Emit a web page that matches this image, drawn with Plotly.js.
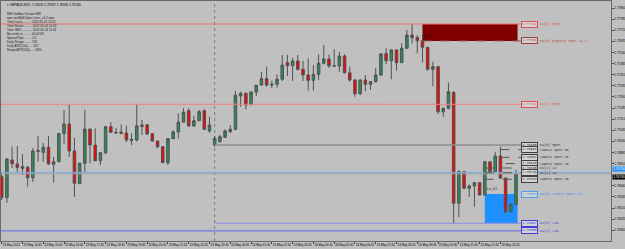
<!DOCTYPE html>
<html><head><meta charset="utf-8">
<script src="https://cdn.plot.ly/plotly-3.0.1.min.js"></script>
<style>html,body{margin:0;padding:0;background:#c0c0c0;overflow:hidden}#chart{width:625px;height:249px}</style>
</head><body><div id="chart"></div>
<script>
// ---- data: GBPAUD M15, first bar 2022-05-23 13:45 ----
const symbolTitle = "GBPAUD,M15";
const firstBar = [2022, 4, 23, 13, 45];
const barMinutes = 15;
const openP = [1.76721,1.76580,1.76834,1.76807,1.76778,1.76785,1.76714,1.76899,1.76886,1.76920,
1.76805,1.76822,1.77012,1.77077,1.76895,1.76674,1.76812,1.77043,1.76935,1.76829,
1.76883,1.77059,1.77021,1.77023,1.77016,1.76974,1.76969,1.77061,1.77072,1.77012,
1.76962,1.76924,1.76816,1.76978,1.77023,1.77090,1.77167,1.77064,1.77099,1.77167,
1.77030,1.76935,1.76958,1.76987,1.77025,1.77041,1.77266,1.77284,1.77210,1.77293,
1.77340,1.77383,1.77340,1.77345,1.77379,1.77491,1.77470,1.77502,1.77446,1.77408,
1.77372,1.77412,1.77487,1.77516,1.77470,1.77468,1.77536,1.77423,1.77374,1.77281,
1.77374,1.77345,1.77363,1.77408,1.77552,1.77504,1.77577,1.77491,1.77588,1.77678,
1.77660,1.77639,1.77595,1.77446,1.77464,1.77160,1.77183,1.77290,1.76542,1.76755,
1.76643,1.76659,1.76681,1.76598,1.76822,1.76755,1.76861,1.76712,1.76485,1.76535];
const highP = [1.76740,1.76845,1.76924,1.76928,1.76874,1.76793,1.76915,1.76996,1.76949,1.76996,
1.76856,1.77018,1.77172,1.77205,1.76984,1.76814,1.77172,1.77046,1.77048,1.76885,
1.77064,1.77089,1.77050,1.77075,1.77066,1.77014,1.77210,1.77104,1.77077,1.77014,
1.76964,1.76928,1.76980,1.77036,1.77149,1.77183,1.77183,1.77131,1.77172,1.77176,
1.77126,1.76996,1.77003,1.77041,1.77070,1.77300,1.77295,1.77290,1.77296,1.77341,
1.77430,1.77464,1.77370,1.77412,1.77543,1.77543,1.77524,1.77543,1.77504,1.77520,
1.77475,1.77547,1.77610,1.77547,1.77583,1.77565,1.77547,1.77464,1.77380,1.77377,
1.77408,1.77365,1.77457,1.77556,1.77588,1.77580,1.77580,1.77622,1.77712,1.77752,
1.77678,1.77678,1.77597,1.77497,1.77470,1.77187,1.77356,1.77297,1.76767,1.76758,
1.76670,1.76683,1.76683,1.76824,1.76824,1.76890,1.76924,1.76715,1.76538,1.76767];
const lowP = [1.76564,1.76544,1.76780,1.76755,1.76733,1.76654,1.76685,1.76822,1.76822,1.76800,
1.76681,1.76820,1.76940,1.76856,1.76586,1.76672,1.76748,1.76812,1.76827,1.76800,
1.76872,1.77018,1.77010,1.77008,1.76954,1.76935,1.76958,1.77003,1.77003,1.76958,
1.76913,1.76814,1.76800,1.76976,1.76978,1.77088,1.77059,1.77061,1.77097,1.77036,
1.77018,1.76924,1.76952,1.76984,1.77016,1.77036,1.77194,1.77176,1.77203,1.77266,
1.77336,1.77329,1.77320,1.77322,1.77367,1.77401,1.77367,1.77437,1.77367,1.77302,
1.77302,1.77374,1.77480,1.77457,1.77462,1.77430,1.77419,1.77363,1.77261,1.77273,
1.77300,1.77307,1.77357,1.77401,1.77480,1.77379,1.77437,1.77489,1.77586,1.77622,
1.77554,1.77493,1.77437,1.77333,1.77142,1.77126,1.77176,1.76407,1.76447,1.76638,
1.76586,1.76519,1.76594,1.76594,1.76753,1.76753,1.76706,1.76474,1.76480,1.76530];
const closeP = [1.76580,1.76841,1.76809,1.76785,1.76789,1.76714,1.76895,1.76893,1.76920,1.76809,
1.76822,1.77012,1.77077,1.76895,1.76677,1.76812,1.77043,1.76935,1.76829,1.76883,
1.77059,1.77021,1.77018,1.77014,1.76969,1.76967,1.77064,1.77070,1.77010,1.76962,
1.76924,1.76816,1.76978,1.77023,1.77090,1.77156,1.77064,1.77099,1.77160,1.77041,
1.77070,1.76980,1.76991,1.77030,1.77041,1.77271,1.77284,1.77205,1.77293,1.77338,
1.77383,1.77340,1.77345,1.77379,1.77475,1.77470,1.77502,1.77446,1.77408,1.77372,
1.77412,1.77487,1.77516,1.77470,1.77468,1.77536,1.77423,1.77374,1.77281,1.77374,
1.77345,1.77363,1.77408,1.77550,1.77504,1.77577,1.77491,1.77588,1.77678,1.77660,
1.77639,1.77595,1.77446,1.77464,1.77160,1.77183,1.77295,1.76542,1.76755,1.76643,
1.76659,1.76681,1.76598,1.76822,1.76755,1.76861,1.76712,1.76485,1.76535,1.76740];

// price axis labels (the one under the bid flag is hidden in the original)
const priceTicks = [1.77860,1.77785,1.77710,1.77635,1.77560,1.77485,1.77410,1.77335,1.77260,1.77185,1.77110,
1.77035,1.76960,1.76885,1.76810,1.76660,1.76585,1.76510,1.76435,1.76360,1.76285];
// time axis labels
const timeTicks = ["2022-05-23 13:45","2022-05-23 14:45","2022-05-23 15:45","2022-05-23 16:45","2022-05-23 17:45",
"2022-05-23 18:45","2022-05-23 19:45","2022-05-23 20:45","2022-05-23 21:45","2022-05-23 22:45","2022-05-23 23:45",
"2022-05-24 00:45","2022-05-24 01:45","2022-05-24 02:45","2022-05-24 03:45","2022-05-24 04:45","2022-05-24 05:45",
"2022-05-24 06:45","2022-05-24 07:45","2022-05-24 08:45","2022-05-24 09:45","2022-05-24 10:45","2022-05-24 11:45",
"2022-05-24 12:45","2022-05-24 13:45"];
const timeTickText = ["23 May 2022","23 May 14:45","23 May 15:45","23 May 16:45","23 May 17:45","23 May 18:45",
"23 May 19:45","23 May 20:45","23 May 21:45","23 May 22:45","23 May 23:45","24 May 00:45","24 May 01:45",
"24 May 02:45","24 May 03:45","24 May 04:45","24 May 05:45","24 May 06:45","24 May 07:45","24 May 08:45",
"24 May 09:45","24 May 10:45","24 May 11:45","24 May 12:45","24 May 13:45"];

// indicator levels
const levelNames  = ["D1(0) High","D1(0) Highest Open 11.4","D1(1) High","D1(0) Open","D1(0) Lowest Open 19.7","D1(0) Low","D1(1) Low"];
const levelValues = [1.77752, 1.77638, 1.77210, 1.76935, 1.76604, 1.76407, 1.76355];
const lowerOpenNames  = ["Lowest Open 30","Lowest Open 25","Lowest Open 20","D1(1) Lo","D1(1) Lo","Lowest Open 10"];
const lowerOpenValues = [1.76904, 1.76852, 1.76810, 1.76780, 1.76748, 1.76704];
const lowerOpenFromBar = [96, 96, 97, 93, 93, 93];
const markerLine = 1.76750;
const dayStartBar = 41;
const infoLines = ["888 ToolBox Version 888","=== sevWolkOpen Lines_v1.2 ===","Time Local........... 2022.05.24 13:42",
"Time Server.......... 2022.05.24 14:42","Time GMT............. 2022.05.24 11:42","Bar ends in.......... 00:02:09",
"Spread Pips......... 1.6","Daily Range......... 135","Daily ATR(100)...... 167","Range/ATR(100)...... 80%"];

// ---- build ----
const t0 = Date.UTC(firstBar[0], firstBar[1], firstBar[2], firstBar[3], firstBar[4]);
function timeAt(k){ return new Date(t0 + k*barMinutes*60000).toISOString().replace('T',' ').slice(0,23); }
const times = openP.map((_, i) => timeAt(i));
const last = openP.length - 1;
const labelX = timeAt(last + 1);
const xLeft = timeAt(-0.135), xRight = timeAt(117.29);
const yTop = 1.779073, yBot = 1.762873;

const candle = {
  type:'candlestick', x: times, open: openP, high: highP, low: lowP, close: closeP,
  increasing:{fillcolor:'#2e8b57', line:{color:'#505050', width:1}},
  decreasing:{fillcolor:'#ff0000', line:{color:'#505050', width:1}},
  whiskerwidth:0, hoverinfo:'skip'
};

const shapes = [];
const ann = [];
function hline(x0, x1, y, color, width, dash){
  shapes.push({type:'line', xref:'x', yref:'y', x0:x0, x1:x1, y0:y, y1:y, line:{color:color, width:width, dash:dash||'solid'}, layer:'above'});
}
function boxLabel(y, name, boxColor, textColor){
  ann.push({x:labelX, y:y, xref:'x', yref:'y', xanchor:'left', yanchor:'middle', showarrow:false,
    text:y.toFixed(5), font:{family:'Liberation Mono', size:3.4, color:textColor},
    bgcolor:'#d2d2d2', bordercolor:boxColor, borderwidth:1, borderpad:0.4});
  ann.push({x:labelX, y:y, xref:'x', yref:'y', xanchor:'left', yanchor:'middle', showarrow:false, xshift:17,
    text:name, font:{family:'Liberation Mono', size:3.4, color:textColor}});
}
// rectangles
shapes.push({type:'rect', xref:'x', yref:'y', x0:timeAt(81), x1:timeAt(last+0.3), y0:levelValues[1], y1:levelValues[0],
  fillcolor:'#800000', line:{width:0}, layer:'below'});
shapes.push({type:'rect', xref:'x', yref:'y', x0:timeAt(93), x1:timeAt(last+0.3), y0:levelValues[5], y1:levelValues[4],
  fillcolor:'#1e90ff', line:{width:0}, layer:'below'});
// day separator
shapes.push({type:'line', xref:'x', yref:'paper', x0:times[dayStartBar], x1:times[dayStartBar], y0:0, y1:1,
  line:{color:'#7a7a7a', width:1, dash:'dot'}, layer:'below'});
// level lines
hline(xLeft, labelX, levelValues[0], '#f07070', 1);
hline(timeAt(81), labelX, levelValues[1], '#9a5050', 1, 'dash');
hline(xLeft, labelX, levelValues[2], '#f08080', 1);
hline(times[dayStartBar], labelX, levelValues[3], '#8e8e8e', 1.5);
hline(times[dayStartBar], labelX, levelValues[5], '#8a8ae8', 1.2);
hline(xLeft, labelX, levelValues[6], '#7474e4', 1.2);
hline(xLeft, xRight, markerLine, '#78aee6', 1);
hline(xLeft, xRight, closeP[last], '#a4a4a4', 1);
for (let i=0;i<lowerOpenValues.length;i++) hline(times[lowerOpenFromBar[i]], labelX, lowerOpenValues[i], '#555555', 1, 'dash');

boxLabel(levelValues[0], levelNames[0], '#e05050', '#e05050');
boxLabel(levelValues[1], levelNames[1], '#a04040', '#b04848');
boxLabel(levelValues[2], levelNames[2], '#e05050', '#e05050');
boxLabel(levelValues[3], levelNames[3], '#404040', '#303030');
for (let i=0;i<lowerOpenValues.length;i++) boxLabel(lowerOpenValues[i], lowerOpenNames[i], '#404040', '#303030');
boxLabel(levelValues[4], levelNames[4], '#4a9ef0', '#3a8ee8');
boxLabel(levelValues[5], levelNames[5], '#4040d8', '#4040d8');
boxLabel(levelValues[6], levelNames[6], '#4040d8', '#4040d8');

// markers on chart
ann.push({x:timeAt(81), y:levelValues[1], xref:'x', yref:'y', xanchor:'left', yanchor:'bottom', showarrow:false, yshift:1,
  text:'Hi_O', font:{family:'Liberation Sans', size:3.4, color:'#101010'}});
ann.push({x:timeAt(93), y:levelValues[4], xref:'x', yref:'y', xanchor:'left', yanchor:'bottom', showarrow:false, yshift:1,
  text:'Lo_LO', font:{family:'Liberation Sans', size:3.4, color:'#101010'}});

// price axis flags
ann.push({x:1, y:markerLine, xref:'paper', yref:'y', xanchor:'left', yanchor:'bottom', showarrow:false, xshift:1,
  text:markerLine.toFixed(5), font:{family:'Liberation Sans', size:3.2, color:'#ffffff'}, bgcolor:'#1e90ff', borderpad:0.2});
ann.push({x:1, y:closeP[last], xref:'paper', yref:'y', xanchor:'left', yanchor:'top', showarrow:false, xshift:1, yshift:-0.5,
  text:closeP[last].toFixed(5), font:{family:'Liberation Sans', size:3.2, color:'#ffffff'}, bgcolor:'#000000', borderpad:0.2});

// header + info text
ann.push({x:0.006, y:0.985, xref:'paper', yref:'paper', xanchor:'left', yanchor:'middle', showarrow:false, align:'left',
  text:'\u25BE ' + symbolTitle + '  ' + [openP[last], highP[last], lowP[last], closeP[last]].map(v=>v.toFixed(5)).join(' '),
  font:{family:'Liberation Sans', size:3.2, color:'#000000'}});
ann.push({x:0.006, y:0.963, xref:'paper', yref:'paper', xanchor:'left', yanchor:'top', showarrow:false, align:'left',
  text:infoLines.join('<br>'), font:{family:'Liberation Sans', size:3.05, color:'#1a1a1a'}});

const layout = {
  width:625, height:249, margin:{l:1, r:14, t:1, b:8, pad:0},
  paper_bgcolor:'#c0c0c0', plot_bgcolor:'#c0c0c0', showlegend:false, dragmode:false, hovermode:false,
  xaxis:{type:'date', range:[xLeft, xRight], rangeslider:{visible:false}, showgrid:false, zeroline:false,
    tickvals:timeTicks, ticktext:timeTickText, tickangle:0, ticks:'outside', ticklen:2, tickwidth:1, tickcolor:'#404040',
    ticklabelposition:'outside right', tickfont:{family:'Liberation Sans', size:3.0, color:'#000'},
    showline:true, linecolor:'#6a6a6a', linewidth:1, mirror:true, fixedrange:true},
  yaxis:{side:'right', range:[yBot, yTop], showgrid:false, zeroline:false,
    tickvals:priceTicks, ticktext:priceTicks.map(v=>v.toFixed(5)), ticks:'outside', ticklen:1.5, tickwidth:1, tickcolor:'#404040',
    tickfont:{family:'Liberation Sans', size:3.2, color:'#000'}, showline:true, linecolor:'#6a6a6a', linewidth:1, mirror:true, fixedrange:true},
  shapes:shapes, annotations:ann
};
Plotly.newPlot('chart', [candle], layout, {staticPlot:true, displayModeBar:false});
</script>
</body></html>
